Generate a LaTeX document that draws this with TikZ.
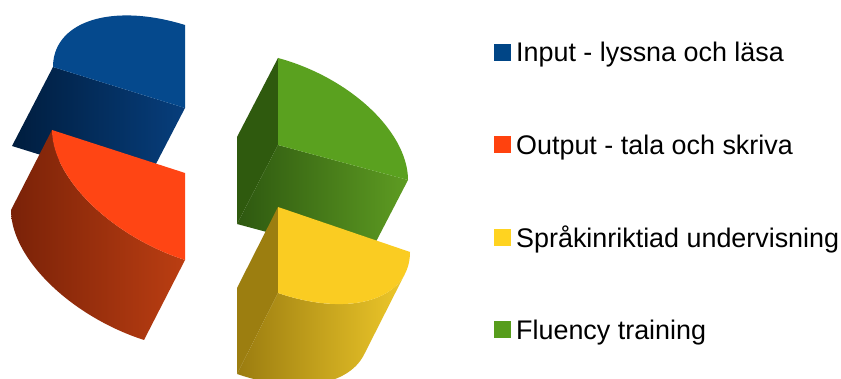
\documentclass[tikz,border=0pt]{standalone}
\usepackage{fontspec}
\setmainfont{Liberation Sans}
% chart palette
\definecolor{cblue}{HTML}{004586}
\definecolor{corange}{HTML}{FF420E}
\definecolor{cyellow}{HTML}{FFD320}
\definecolor{cgreen}{HTML}{579D1C}
% lit top faces
\definecolor{bluetop}{HTML}{05498D}
\definecolor{orangetop}{HTML}{FF4514}
\definecolor{greentop}{HTML}{5AA11F}
\definecolor{yellowtop}{HTML}{FACC22}
% shaded side faces
\definecolor{bluedark}{HTML}{001D3E}
\definecolor{bluemid}{HTML}{073E7C}
\definecolor{orangedark}{HTML}{7A2208}
\definecolor{orangemid}{HTML}{BB3E12}
\definecolor{greenside}{HTML}{2F5A0E}
\definecolor{greendark}{HTML}{2E5810}
\definecolor{greenmid}{HTML}{5E9C22}
\definecolor{yellowside}{HTML}{9C7E10}
\definecolor{yellowdark}{HTML}{9A7C10}
\definecolor{yellowmid}{HTML}{DDB422}
\definecolor{yellowlight}{HTML}{EEC82A}
\tikzset{
  legendbox/.style={minimum size=17pt, inner sep=0pt, outer sep=0pt},
  legendtext/.style={anchor=base west, inner sep=0pt, text=black,
    font=\fontsize{26.9}{31}\selectfont},
}
\begin{document}
\begin{tikzpicture}[x=1pt,y=-1pt]
\clip (0,0) rectangle (841,379);
\fill[white] (0,0) rectangle (841,379);

% --- Input wedge (upper left) ---
\shade[left color=bluedark, right color=bluemid]
  (185,108) -- (53,67) -- (12,146) -- (144,187) -- cycle;
\fill[bluetop] (185,108) -- (53,67)
  -- plot[domain=0:90,samples=50] ({185-132*cos(\x)},{108-41*cos(\x)-83*sin(\x)})
  -- cycle;

% --- Output wedge (lower left) ---
\shade[left color=orangedark, right color=orangemid]
  plot[domain=0:90,samples=50] ({185-133*cos(\x)},{173-43*cos(\x)+87*sin(\x)})
  -- plot[domain=90:0,samples=50] ({144-133*cos(\x)},{253-43*cos(\x)+87*sin(\x)})
  -- cycle;
\fill[orangetop] (185,173) -- (52,130)
  -- plot[domain=0:90,samples=50] ({185-133*cos(\x)},{173-43*cos(\x)+87*sin(\x)})
  -- cycle;

% --- Fluency wedge (upper right) ---
\fill[greenside] (278,58) -- (278,145) -- (237,224) -- (237,137) -- cycle;
\shade[left color=greendark, right color=greenmid]
  (278,145) -- (408,180) -- (367,259) -- (237,224) -- cycle;
\fill[greentop] (278,145) -- (278,58)
  -- plot[domain=0:90,samples=50] ({278+130*sin(\x)},{145-87*cos(\x)+35*sin(\x)})
  -- cycle;

% --- Språkinriktiad wedge (lower right) ---
\fill[yellowside] (278,207) -- (278,293) -- (237,374) -- (237,288) -- cycle;
\shade[left color=yellowdark, middle color=yellowmid, right color=yellowlight]
  plot[domain=15.9:90,samples=50] ({278+132*cos(\x)},{207+45*cos(\x)+86*sin(\x)})
  -- plot[domain=90:15.9,samples=50] ({237+132*cos(\x)},{288+45*cos(\x)+86*sin(\x)})
  -- cycle;
\fill[yellowtop] (278,207) -- (410,252)
  -- plot[domain=0:90,samples=50] ({278+132*cos(\x)},{207+45*cos(\x)+86*sin(\x)})
  -- cycle;

% --- legend ---
\node[legendbox, fill=cblue]   (kin)  at (502.5,52.5)  {};
\node[legendtext] (tin)  at (516,62)    {Input - lyssna och läsa};
\node[legendbox, fill=corange] (kout) at (502.5,145)   {};
\node[legendtext] (tout) at (516,154.5) {Output - tala och skriva};
\node[legendbox, fill=cyellow] (kspr) at (502.5,238)   {};
\node[legendtext] (tspr) at (516,247.5) {Språkinriktiad undervisning};
\node[legendbox, fill=cgreen]  (kflu) at (502.5,330)   {};
\node[legendtext] (tflu) at (516,339.5) {Fluency training};
\end{tikzpicture}
\end{document}
